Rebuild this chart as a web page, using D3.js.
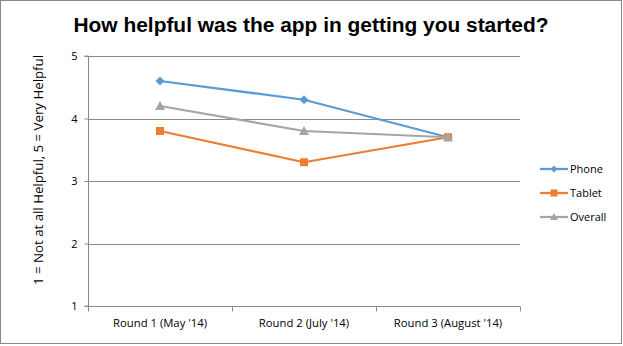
<!DOCTYPE html>
<html><head><meta charset="utf-8">
<script src="https://cdn.jsdelivr.net/npm/d3@7"></script>
<style>body{margin:0;background:#fff}svg{display:block}</style>
</head><body>
<script>
const categories = ["Round 1 (May '14)", "Round 2 (July '14)", "Round 3 (August '14)"];
const phone = [4.6, 4.3, 3.7];
const tablet = [3.8, 3.3, 3.7];
const overall = [4.2, 3.8, 3.7];
const yTicks = [1, 2, 3, 4, 5];
const seriesNames = ["Phone", "Tablet", "Overall"];
const title = "How helpful was the app in getting you started?";
const yTitle = "1 = Not at all Helpful,  5 = Very Helpful";

const W = 623, H = 346;
const svg = d3.select("body").append("svg").attr("width", W).attr("height", H);
svg.append("rect").attr("x",0.5).attr("y",0.5).attr("width",621).attr("height",343)
  .attr("fill","#fff").attr("stroke","#898989");

const font = "'Open Sans', 'Liberation Sans', Arial, sans-serif";
const tfont = "'Liberation Sans', Arial, sans-serif";
const L = 88, R = 520, T = 56, B = 306;
const x = d3.scaleBand().domain(categories).range([L, R]);
const y = d3.scaleLinear().domain([1, 5]).range([B, T]);

// gridlines
svg.append("g").selectAll("line").data(yTicks.filter(d => d > 1)).join("line")
  .attr("x1", L).attr("x2", R).attr("y1", d => Math.round(y(d)) + 0.5).attr("y2", d => Math.round(y(d)) + 0.5)
  .attr("stroke", "#898989").attr("stroke-width", 1);

// y axis
const ya = svg.append("g").attr("transform", `translate(${L + 0.5},0)`)
  .call(d3.axisLeft(y).tickValues(yTicks).tickSize(4).tickPadding(7).tickFormat(d3.format("d")));
ya.select(".domain").attr("stroke", "#898989").attr("d", `M-4,${B}H0V${T}H-4`);
ya.selectAll(".tick line").attr("stroke", "#898989");
ya.selectAll(".tick text").attr("font-family", font).attr("font-size", 11).attr("fill", "#000");

// x axis
const xa = svg.append("g").attr("transform", `translate(0,${B + 0.5})`)
  .call(d3.axisBottom(x).tickSize(0).tickPadding(12));
xa.select(".domain").attr("stroke", "#898989").attr("d", `M${L},0H${R}`);
xa.selectAll(".tick text").attr("font-family", font).attr("font-size", 11.3).attr("fill", "#000");
const bounds = [L, ...categories.map(c => x(c) + x.bandwidth())];
xa.selectAll(".bt").data(bounds).join("line").attr("class","bt")
  .attr("x1", d => d + 0.5).attr("x2", d => d + 0.5).attr("y1", 0).attr("y2", 5).attr("stroke", "#898989");

// title
svg.append("text").attr("x", 311).attr("y", 32).attr("text-anchor", "middle")
  .attr("font-family", tfont).attr("font-weight", "bold").attr("font-size", 20)
  .attr("textLength", 475).attr("lengthAdjust", "spacingAndGlyphs").text(title);

// y title
svg.append("text").attr("transform", `translate(43,${(T + B) / 2 - 11}) rotate(-90)`)
  .attr("text-anchor", "middle").attr("font-family", font).attr("font-size", 12.5)
  .attr("textLength", 230).attr("lengthAdjust", "spacingAndGlyphs")
  .text(yTitle);

const colors = ["#5b9bd5", "#ed7d31", "#a5a5a5"];
const data = [phone, tablet, overall];
const cx = c => x(c) + x.bandwidth() / 2;
const line = d3.line().x((d, i) => cx(categories[i])).y(d => y(d));
const marker = [
  "M0,-4.5L4.5,0L0,4.5L-4.5,0Z",
  "M-4,-4H4V4H-4Z",
  "M0,-5L5,4H-5Z"
];

data.forEach((vals, si) => {
  svg.append("path").datum(vals).attr("d", line).attr("fill", "none")
    .attr("stroke", colors[si]).attr("stroke-width", 2.25).attr("stroke-linejoin", "round");
  svg.append("g").selectAll("path").data(vals).join("path")
    .attr("transform", (d, i) => `translate(${cx(categories[i])},${y(d)})`)
    .attr("d", marker[si]).attr("fill", colors[si]);
});

// legend
const ly = [169, 193, 217];
const lmarker = ["M0,-3.5L3.5,0L0,3.5L-3.5,0Z", "M-3.5,-3.5H3.5V3.5H-3.5Z", "M0,-4L4,3H-4Z"];
seriesNames.forEach((n, i) => {
  const g = svg.append("g").attr("transform", `translate(540,${ly[i]})`);
  g.append("line").attr("x1", 0).attr("x2", 28).attr("stroke", colors[i]).attr("stroke-width", 2.25);
  g.append("path").attr("transform", "translate(14,0)").attr("d", lmarker[i]).attr("fill", colors[i]);
  g.append("text").attr("x", 30).attr("y", 4).attr("font-family", font).attr("font-size", 11).text(n);
});
</script>
</body></html>
